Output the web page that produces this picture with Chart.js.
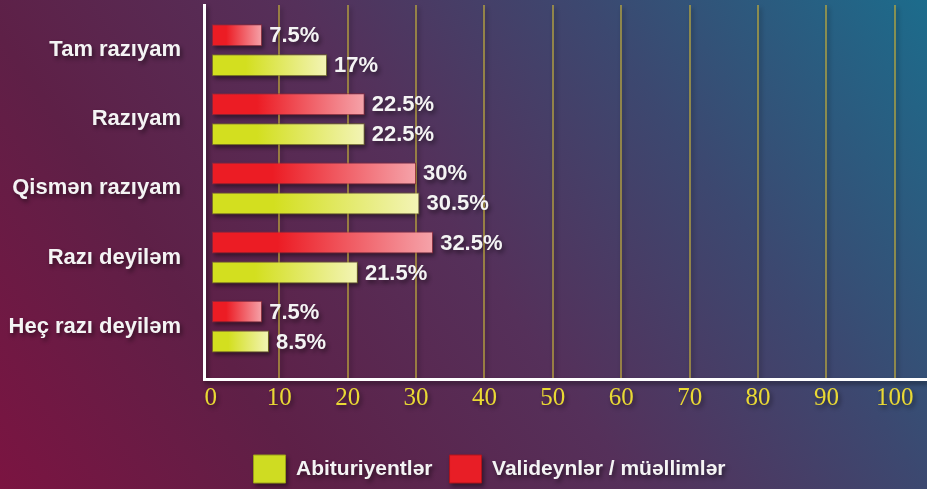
<!DOCTYPE html>
<html lang="az">
<head>
  <meta charset="UTF-8">
  <title>Razılıq</title>
  <script src="https://cdn.jsdelivr.net/npm/chart.js"></script>
  <style>
    html, body {
      margin: 0;
      padding: 0;
      width: 927px;
      height: 489px;
      overflow: hidden;
      background: linear-gradient(55deg, #7b1441 0%, #5e2047 25%, #55305a 50%, #3c4870 73%, #1c6c8c 100%);
    }
    canvas {
      display: block;
      filter: drop-shadow(2px 3px 2px rgba(0, 0, 0, 0.45));
    }
  </style>
</head>
<body>
  <canvas id="chart" width="927" height="489"></canvas>

  <script>
    const categories = ['Tam razıyam', 'Razıyam', 'Qismən razıyam', 'Razı deyiləm', 'Heç razı deyiləm'];
    const parents = [7.5, 22.5, 30, 32.5, 7.5];       // Valideynlər / müəllimlər
    const applicants = [17, 22.5, 30.5, 21.5, 8.5];   // Abituriyentlər
    const xTicks = [0, 10, 20, 30, 40, 50, 60, 70, 80, 90, 100];

    // each bar gets its own left-to-right fade
    function barFill(solid, light) {
      return (c) => {
        const chart = c.chart;
        if (!chart.chartArea || c.type !== 'data' || !chart.scales.x) return solid;
        const xs = chart.scales.x;
        const x0 = xs.getPixelForValue(0);
        const x1 = xs.getPixelForValue(c.raw.x);
        const g = chart.ctx.createLinearGradient(x0, 0, x1, 0);
        g.addColorStop(0, solid);
        g.addColorStop(0.3, solid);
        g.addColorStop(1, light);
        return g;
      };
    }

    const valueLabels = {
      id: 'valueLabels',
      afterDatasetsDraw(chart) {
        const ctx = chart.ctx;
        ctx.save();
        ctx.font = 'bold 22px "Liberation Sans", Arial, sans-serif';
        ctx.fillStyle = '#f4f4f4';
        ctx.textAlign = 'left';
        ctx.textBaseline = 'middle';
        chart.data.datasets.forEach((ds, i) => {
          chart.getDatasetMeta(i).data.forEach((bar, j) => {
            ctx.fillText(ds.data[j].x + '%', bar.x + 7, bar.y + 1);
          });
        });
        ctx.restore();
      }
    };

    // legend in the original sits a bit right of centre
    const legendShift = {
      id: 'legendShift',
      afterLayout(chart) {
        chart.legend.left += 26;
        chart.legend.right += 26;
      }
    };

    new Chart(document.getElementById('chart'), {
      type: 'bar',
      data: {
        datasets: [{
          label: 'Valideynlər / müəllimlər',
          data: parents.map((v, i) => ({ x: v, y: i })),
          backgroundColor: barFill('#ec1c24', '#f5a3aa'),
          borderColor: 'rgba(150, 40, 55, 0.8)',
          borderWidth: 1,
          borderSkipped: false
        }, {
          label: 'Abituriyentlər',
          data: applicants.map((v, i) => ({ x: v, y: i })),
          backgroundColor: barFill('#d3df1f', '#f3f4b6'),
          borderColor: 'rgba(120, 120, 30, 0.8)',
          borderWidth: 1,
          borderSkipped: false
        }]
      },
      options: {
        responsive: false,
        animation: false,
        indexAxis: 'y',
        categoryPercentage: 0.868,
        barPercentage: 0.733,
        layout: { padding: { top: 5, right: 0, bottom: -4, left: 0 } },
        scales: {
          x: {
            type: 'linear',
            min: -1,
            max: 104.7,
            afterBuildTicks: (s) => { s.ticks = xTicks.map(v => ({ value: v })); },
            afterFit: (s) => { s.height = 59; },
            grid: {
              color: (c) => c.tick && c.tick.value === 0 ? 'rgba(0,0,0,0)' : 'rgba(190, 170, 60, 0.65)',
              lineWidth: 2,
              drawTicks: false
            },
            border: { color: '#ffffff', width: 3 },
            ticks: {
              color: '#e9d934',
              padding: 4,
              font: { family: '"Liberation Serif", "Times New Roman", serif', size: 25 }
            }
          },
          y: {
            type: 'linear',
            offset: false,
            reverse: true,
            min: -0.654,
            max: 4.758,
            afterBuildTicks: (s) => { s.ticks = categories.map((_, i) => ({ value: i })); },
            afterFit: (s) => { s.width = 204; s.paddingTop = 0; s.paddingBottom = 0; },
            grid: { display: false, drawTicks: false, offset: false },
            border: { color: '#ffffff', width: 3 },
            ticks: {
              color: '#f4f4f4',
              padding: 23,
              font: { family: '"Liberation Sans", Arial, sans-serif', size: 22, weight: 'bold' },
              callback: (v) => categories[v]
            }
          }
        },
        plugins: {
          tooltip: { enabled: false },
          legend: {
            position: 'bottom',
            reverse: true,
            labels: {
              boxWidth: 32,
              boxHeight: 28,
              padding: 17,
              color: '#f4f4f4',
              font: { family: '"Liberation Sans", Arial, sans-serif', size: 21, weight: 'bold' },
              generateLabels: () => [
                { text: 'Valideynlər / müəllimlər', fillStyle: '#e81e26', strokeStyle: '#b0141c', lineWidth: 1, datasetIndex: 0, fontColor: '#f4f4f4' },
                { text: 'Abituriyentlər', fillStyle: '#cfdc22', strokeStyle: '#9aa018', lineWidth: 1, datasetIndex: 1, fontColor: '#f4f4f4' }
              ]
            }
          }
        }
      },
      plugins: [valueLabels, legendShift]
    });
  </script>
</body>
</html>
